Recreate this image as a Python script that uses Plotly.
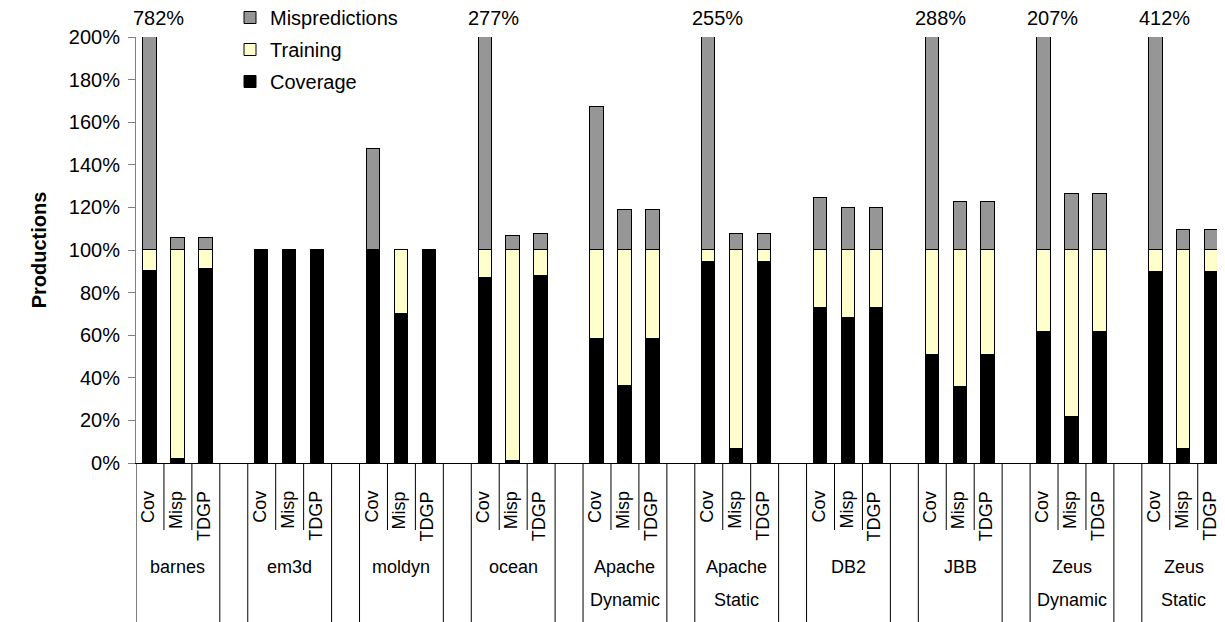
import plotly.graph_objects as go

# ---- data ----
group_line1 = ["barnes", "em3d", "moldyn", "ocean", "Apache", "Apache", "DB2", "JBB", "Zeus", "Zeus"]
group_line2 = ["", "", "", "", "Dynamic", "Static", "", "", "Dynamic", "Static"]
configs = ["Cov", "Misp", "TDGP"]

# percent of productions, per group: [Cov, Misp, TDGP]
coverage = [
    [90, 2, 91],
    [100, 100, 100],
    [100, 70, 100],
    [87, 1, 88],
    [58, 36, 58],
    [94.5, 6.7, 94.5],
    [73, 68.3, 73],
    [50.6, 35.8, 50.6],
    [61.7, 21.7, 61.7],
    [89.8, 6.7, 89.8],
]
training = [
    [10, 98, 9],
    [0, 0, 0],
    [0, 30, 0],
    [13, 99, 12],
    [42, 64, 42],
    [5.5, 93.3, 5.5],
    [27, 31.7, 27],
    [49.4, 64.2, 49.4],
    [38.3, 78.3, 38.3],
    [10.2, 93.3, 10.2],
]
mispredictions = [
    [682, 5.5, 5.5],
    [0, 0, 0],
    [47.5, 0, 0],
    [177, 6.4, 7.5],
    [67, 18.6, 18.6],
    [155, 7.3, 7.3],
    [24.2, 19.5, 19.5],
    [188, 22.5, 22.5],
    [107, 26.3, 26.3],
    [312, 9.4, 9.4],
]
y_ticks = list(range(0, 201, 20))

# ---- build slot positions (3 bars + 1 gap per group) ----
xs, cov_v, tr_v, mi_v, cfg_lbl = [], [], [], [], []
for g in range(len(group_line1)):
    for c in range(3):
        xs.append(4 * g + c)
        cov_v.append(coverage[g][c])
        tr_v.append(training[g][c])
        mi_v.append(mispredictions[g][c])
        cfg_lbl.append(configs[c])

FONT = "Liberation Sans, Arial, sans-serif"
BW = 0.48
line = dict(color="black", width=1)

fig = go.Figure()
fig.add_trace(go.Bar(x=xs, y=cov_v, name="Coverage", width=BW, legendrank=3,
                     marker=dict(color="#000000", line=line), legendgroup="c"))
fig.add_trace(go.Bar(x=xs, y=tr_v, name="Training", width=BW, legendrank=2,
                     marker=dict(color="#FFFFCC", line=line), legendgroup="t"))
fig.add_trace(go.Bar(x=xs, y=mi_v, name="Mispredictions", width=BW, legendrank=1,
                     marker=dict(color="#969696", line=line), legendgroup="m"))

# page body margin (8px) compensation: layout described in screen pixels
OFF = 8
SCREEN_W, SCREEN_H = 1225, 622
PLOT_LEFT = 136
PLOT_TOP = 37
PLOT_BOT = 463
PH = PLOT_BOT - PLOT_TOP
FIG_W = SCREEN_W - OFF
FIG_H = SCREEN_H - OFF
PW = FIG_W - (PLOT_LEFT - OFF)


def py(pix):
    return (PLOT_BOT - pix) / PH


def px(pix):
    return (pix - PLOT_LEFT) / PW


shapes = []
annotations = []
n_groups = len(group_line1)
for g in range(n_groups):
    for k, long in [(4 * g - 0.5, True), (4 * g + 0.5, False), (4 * g + 1.5, False), (4 * g + 2.5, True)]:
        shapes.append(dict(type="line", xref="x", yref="paper", x0=k, x1=k,
                           y0=0, y1=py(SCREEN_H + 2) if long else py(530),
                           line=dict(color="black", width=1)))
    annotations.append(dict(x=4 * g + 1, y=py(555), xref="x", yref="paper", text=group_line1[g],
                            showarrow=False, yanchor="top", font=dict(size=18, family=FONT, color="black")))
    if group_line2[g]:
        annotations.append(dict(x=4 * g + 1, y=py(588), xref="x", yref="paper", text=group_line2[g],
                                showarrow=False, yanchor="top", font=dict(size=18, family=FONT, color="black")))

for x, lbl in zip(xs, cfg_lbl):
    annotations.append(dict(x=x - 0.07, y=py(489), xref="x", yref="paper", text=lbl, textangle=-90,
                            showarrow=False, yanchor="top", xanchor="center",
                            font=dict(size=18, family=FONT, color="black")))

for x, c, t, m in zip(xs, cov_v, tr_v, mi_v):
    total = c + t + m
    if total > 200:
        annotations.append(dict(x=x + 0.3, y=py(18), xref="x", yref="paper", text=f"{round(total)}%",
                                showarrow=False, yanchor="middle",
                                font=dict(size=20, family=FONT, color="black")))

slot_px = 27.94
fig.update_layout(
    width=FIG_W, height=FIG_H,
    margin=dict(l=PLOT_LEFT - OFF, r=0, t=PLOT_TOP - OFF, b=FIG_H - (PLOT_BOT - OFF), pad=0,
                autoexpand=False),
    paper_bgcolor="white", plot_bgcolor="white",
    barmode="stack", bargap=0,
    font=dict(family=FONT, size=20, color="black"),
    showlegend=True,
    legend=dict(x=px(230), y=py(-2), xanchor="left", yanchor="top",
                traceorder="grouped", tracegroupgap=3,
                font=dict(size=20, family=FONT), bgcolor="rgba(0,0,0,0)",
                itemclick=False),
    xaxis=dict(range=[-0.5, -0.5 + PW / slot_px], showticklabels=False,
               showgrid=False, zeroline=False, showline=True, linecolor="black", linewidth=1,
               ticks=""),
    yaxis=dict(range=[0, 200], tickvals=y_ticks, ticktext=[f"{v}%" for v in y_ticks],
               showgrid=False, zeroline=False, showline=True, linecolor="#808080", linewidth=1,
               ticks="outside", ticklen=7, tickcolor="#808080", ticklabelstandoff=4,
               tickfont=dict(size=20, family=FONT),
               title=dict(text="<b>Productions</b>", font=dict(size=20, family=FONT), standoff=16)),
    shapes=shapes,
    annotations=annotations,
)

fig.write_html("out.html")
